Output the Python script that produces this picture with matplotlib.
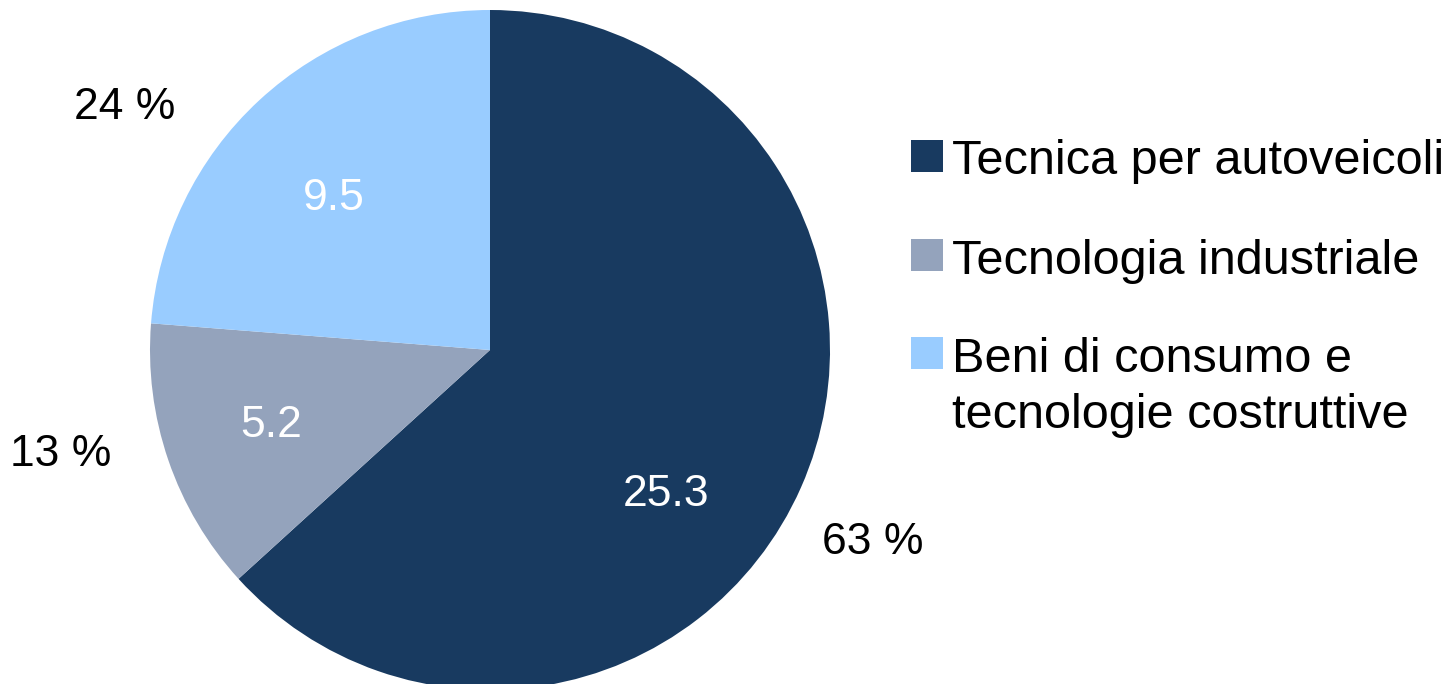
import numpy as np
import matplotlib
matplotlib.use("Agg")
import matplotlib.pyplot as plt
from matplotlib.patches import Rectangle

plt.rcParams['font.family'] = ['Liberation Sans', 'DejaVu Sans']

# ---- data ----
categories = ["Tecnica per autoveicoli", "Tecnologia industriale",
              "Beni di consumo e\ntecnologie costruttive"]
values = [25.3, 5.2, 9.5]
shares = ["63 %", "13 %", "24 %"]
colors = ["#183A60", "#94A3BC", "#99CCFF"]

# ---- layout (styling) ----
W, H = 1452, 684
cx, cy, R = 490, 350, 340          # pie centre / radius in pixels
inner_pos = [(-39.3, 0.67), (199.0, 0.68), (135.7, 0.64)]   # (deg, r)
outer_pos = [(-26.7, 1.26), (193.7, 1.30), (146.5, 1.29)]
FS = 32
LFS = 35

fig = plt.figure(figsize=(W / 100, H / 100), dpi=100)
ax = fig.add_axes([0, 0, 1, 1])
ax.pie(values, colors=colors, startangle=90, counterclock=False,
       radius=1, wedgeprops=dict(linewidth=0))
ax.set_xlim(-cx / R, (W - cx) / R)
ax.set_ylim(-(H - cy) / R, cy / R)
ax.set_aspect('equal', adjustable='box')
ax.axis('off')

for v, (a, r) in zip(values, inner_pos):
    t = np.deg2rad(a)
    ax.text(r * np.cos(t), r * np.sin(t), f"{v:.1f}", ha='center',
            va='center', fontsize=FS, color='white')
for s, (a, r) in zip(shares, outer_pos):
    t = np.deg2rad(a)
    ax.text(r * np.cos(t), r * np.sin(t), s, ha='center',
            va='center', fontsize=FS, color='black')

# ---- manual legend (pixel positions) ----
def fx(x):
    return x / W

def fy(y):
    return 1 - y / H

marker_centres = [156, 255, 353]
baselines = [174, 274, 372]
for lab, col, mc, bl in zip(categories, colors, marker_centres, baselines):
    fig.patches.append(Rectangle((fx(911), fy(mc + 16)), 32 / W, 32 / H,
                                 transform=fig.transFigure, color=col,
                                 linewidth=0))
    lines = lab.split("\n")
    for k, ln in enumerate(lines):
        fig.text(fx(952), fy(bl + 56 * k), ln, fontsize=LFS, ha='left',
                 va='baseline', color='black')

fig.savefig("out.png", dpi=100, facecolor='white')
